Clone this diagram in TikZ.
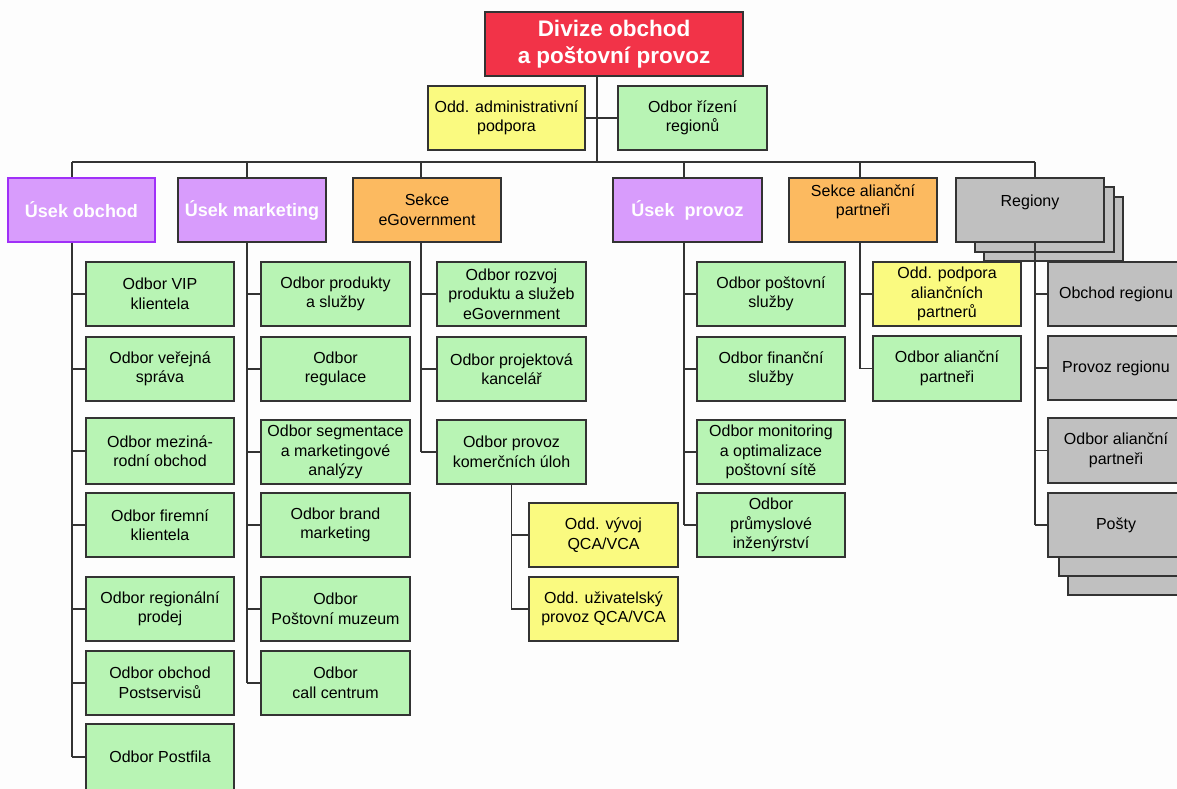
\documentclass[tikz,border=0pt]{standalone}
\usepackage{fontspec}
\setmainfont{Liberation Sans}
\definecolor{bgc}{HTML}{FDFDFD}
\definecolor{linec}{HTML}{333333}
\definecolor{redc}{HTML}{F23348}
\definecolor{yelc}{HTML}{FAFA80}
\definecolor{grnc}{HTML}{B8F4B4}
\definecolor{purc}{HTML}{D89CFC}
\definecolor{purb}{HTML}{A030F8}
\definecolor{orgc}{HTML}{FCBA60}
\definecolor{gryc}{HTML}{C0C0C0}
\tikzset{
  basebox/.style={draw=linec, line width=1.4pt, inner sep=1pt, align=center, text=black,
    font=\fontsize{16}{19.5}\selectfont},
  gbox/.style={basebox, fill=grnc},
  ybox/.style={basebox, fill=yelc},
  obox/.style={basebox, fill=orgc},
  graybox/.style={basebox, fill=gryc},
  pbox/.style={basebox, fill=purc, text=white, font=\bfseries\fontsize{18}{21}\selectfont},
  redbox/.style={basebox, fill=redc, text=white, font=\bfseries\fontsize{22.5}{27}\selectfont},
  conn/.style={draw=linec, line width=1.4pt},
  shadowbox/.style={draw=linec, line width=1.4pt, fill=gryc}
}
\newcommand\obx[7]{\node[#2, minimum width={(#5-#3)*1pt}, minimum height={(#6-#4)*1pt}] (#1) at ({(#3+#5)/2},{(#4+#6)/2}) {#7};}
\begin{document}
\begin{tikzpicture}[x=1pt,y=-1pt]
\useasboundingbox (0,0) rectangle (1177,789);
\fill[bgc] (0,0) rectangle (1177,789);
\begin{scope}
\clip (0,0) rectangle (1177,789);
% shadow copies
\path[shadowbox] (984,197) rectangle (1123,261);
\path[shadowbox] (975,187) rectangle (1114,252);
\path[shadowbox] (1068,520) rectangle (1200,595);
\path[shadowbox] (1059,510) rectangle (1200,576);

% coordinates
\coordinate (t0) at (597,162);
\coordinate (b1) at (72,162);
\coordinate (b2) at (247,162);
\coordinate (b3) at (421,162);
\coordinate (b4) at (684,162);
\coordinate (b5) at (860,162);
\coordinate (b6) at (1035,162);

% boxes
\obx{top}{redbox}{485}{12}{743}{76}{Divize obchod\\a poštovní provoz}
\obx{adm}{ybox}{428}{86}{585}{150}{Odd. administrativní\\podpora}
\obx{riz}{gbox}{618}{86}{767}{150}{Odbor řízení\\regionů}

\obx{uobch}{pbox,draw=purb}{8}{178}{155}{242}{Úsek obchod}
\obx{umkt}{pbox}{178}{178}{326}{242}{Úsek marketing}
\obx{segov}{obox}{353}{178}{501}{242}{Sekce\\eGovernment}
\obx{uprov}{pbox}{613}{178}{762}{242}{Úsek\ \ provoz}
\obx{salp}{obox}{789}{178}{937}{242}{Sekce alianční\\partneři\\\mbox{}}
\obx{reg}{graybox}{956}{178}{1104}{242}{Regiony\\\mbox{}}

\obx{vip}{gbox}{86}{262}{234}{326}{Odbor VIP\\klientela}
\obx{ver}{gbox}{86}{337}{234}{401}{Odbor veřejná\\správa}
\obx{mez}{gbox}{86}{418}{234}{484}{Odbor meziná-\\rodní obchod}
\obx{fir}{gbox}{86}{493}{234}{557}{Odbor firemní\\klientela}
\obx{regp}{gbox}{86}{577}{234}{641}{Odbor regionální\\prodej}
\obx{pos}{gbox}{86}{651}{234}{715}{Odbor obchod\\Postservisů}
\obx{pfil}{gbox}{86}{724}{234}{790}{Odbor Postfila}

\obx{prod}{gbox}{261}{262}{410}{326}{Odbor produkty\\a služby}
\obx{regu}{gbox}{261}{337}{410}{401}{Odbor\\regulace}
\obx{seg}{gbox}{261}{420}{410}{484}{Odbor segmentace\\a marketingové\\analýzy}
\obx{brand}{gbox}{261}{493}{410}{557}{Odbor brand\\marketing}
\obx{muz}{gbox}{261}{577}{410}{641}{Odbor\\Poštovní muzeum}
\obx{call}{gbox}{261}{651}{410}{715}{Odbor\\call centrum}

\obx{rozv}{gbox}{437}{262}{586}{326}{Odbor rozvoj\\produktu a služeb\\eGovernment}
\obx{proj}{gbox}{437}{337}{586}{401}{Odbor projektová\\kancelář}
\obx{kom}{gbox}{437}{420}{586}{484}{Odbor provoz\\komerčních úloh}
\obx{vyv}{ybox}{529}{503}{678}{567}{Odd. vývoj\\QCA/VCA}
\obx{uziv}{ybox}{529}{577}{678}{641}{Odd. uživatelský\\provoz QCA/VCA}

\obx{post}{gbox}{697}{262}{845}{326}{Odbor poštovní\\služby}
\obx{fin}{gbox}{697}{337}{845}{401}{Odbor finanční\\služby}
\obx{mon}{gbox}{697}{420}{845}{484}{Odbor monitoring\\a optimalizace\\poštovní sítě}
\obx{prum}{gbox}{697}{493}{845}{557}{Odbor\\průmyslové\\inženýrství}

\obx{podp}{ybox}{873}{262}{1021}{326}{Odd. podpora\\aliančních\\partnerů}
\obx{oap}{gbox}{873}{336}{1021}{401}{Odbor alianční\\partneři}

\obx{obr}{graybox}{1048}{262}{1184}{326}{Obchod regionu}
\obx{prr}{graybox}{1048}{336}{1184}{400}{Provoz regionu}
\obx{oar}{graybox}{1048}{418}{1184}{483}{Odbor alianční\\partneři}
\obx{posty}{graybox}{1048}{493}{1184}{557}{Pošty}

% connectors
\draw[conn] (top.south -| t0) -- (t0);
\draw[conn] (adm.east) -- (adm.east -| t0);
\draw[conn] (riz.west) -- (riz.west -| t0);
\draw[conn] (b1) -- (b6);
\foreach \b/\n in {b1/uobch,b2/umkt,b3/segov,b4/uprov,b5/salp,b6/reg}
  \draw[conn] (\b) -- (\b |- \n.north);

\draw[conn] (b1 |- uobch.south) -- (b1 |- pfil.west);
\foreach \n in {vip,ver,mez,fir,regp,pos,pfil} \draw[conn] (b1 |- \n.west) -- (\n.west);
\draw[conn] (b2 |- umkt.south) -- (b2 |- call.west);
\foreach \n in {prod,regu,seg,brand,muz,call} \draw[conn] (b2 |- \n.west) -- (\n.west);
\draw[conn] (b3 |- segov.south) -- (b3 |- kom.west);
\foreach \n in {rozv,proj,kom} \draw[conn] (b3 |- \n.west) -- (\n.west);
\draw[conn] (kom.south) |- (uziv.west);
\draw[conn] (kom.south |- vyv.west) -- (vyv.west);
\draw[conn] (b4 |- uprov.south) -- (b4 |- prum.west);
\foreach \n in {post,fin,mon,prum} \draw[conn] (b4 |- \n.west) -- (\n.west);
\draw[conn] (b5 |- salp.south) -- (b5 |- oap.west);
\foreach \n in {podp,oap} \draw[conn] (b5 |- \n.west) -- (\n.west);
\draw[conn] (b6 |- reg.south) -- (b6 |- posty.west);
\foreach \n in {obr,prr,oar,posty} \draw[conn] (b6 |- \n.west) -- (\n.west);
\end{scope}
\end{tikzpicture}
\end{document}
